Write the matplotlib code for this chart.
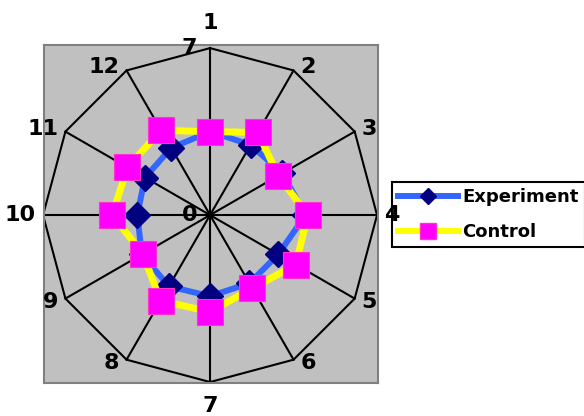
import numpy as np
import matplotlib
matplotlib.use("Agg")
import matplotlib.pyplot as plt
from matplotlib.lines import Line2D

categories = ["1", "2", "3", "4", "5", "6", "7", "8", "9", "10", "11", "12"]
experiment = [3.5, 3.4, 3.5, 4.0, 3.3, 3.3, 3.4, 3.45, 3.3, 3.05, 3.15, 3.25]
control = [3.5, 4.0, 3.3, 4.1, 4.15, 3.55, 4.05, 4.15, 3.25, 4.1, 4.0, 4.1]
r_max = 7
r_ticks = [0, 7]

plt.rcParams['font.family'] = ['DejaVu Sans']
plt.rcParams['font.weight'] = 'bold'

fig = plt.figure(figsize=(5.84, 4.16), dpi=100)
ax = fig.add_axes([44 / 584, 33 / 416, 334 / 584, 338 / 416])
ax.set_facecolor('#c0c0c0')
for s in ax.spines.values():
    s.set_color('#808080')
    s.set_linewidth(1.5)
ax.set_xticks([])
ax.set_yticks([])
ax.set_xlim(-6.96, 7.04)
ax.set_ylim(-7.04, 7.13)

n = len(categories)
theta = np.deg2rad(90 - 360 / n * np.arange(n))


def to_xy(vals):
    v = np.asarray(vals, dtype=float)
    x = v * np.cos(theta)
    y = v * np.sin(theta)
    return np.append(x, x[0]), np.append(y, y[0])


# spokes and outer ring
ox, oy = to_xy([r_max] * n)
for i in range(n):
    ax.plot([0, ox[i]], [0, oy[i]], color='black', lw=1.5, zorder=1)
ax.plot(ox, oy, color='black', lw=1.5, zorder=1)

# series
ex, ey = to_xy(experiment)
ax.plot(ex, ey, color='#3366ff', lw=4.3, zorder=2)
ax.plot(ex[:-1], ey[:-1], ls='none', marker='D', ms=13, color='#000080', zorder=3)
cx, cy = to_xy(control)
ax.plot(cx, cy, color='#ffff00', lw=5, zorder=4)
ax.plot(cx[:-1], cy[:-1], ls='none', marker='s', ms=18.5, markerfacecolor='#ff00ff',
        markeredgecolor='#ff33cc', markeredgewidth=0.8, zorder=5)

# category labels (drawn above the legend, like the original)
for i, lab in enumerate(categories):
    c, s = np.cos(theta[i]), np.sin(theta[i])
    if abs(c) < 1e-6:
        ha = 'center'
        va = 'bottom' if s > 0 else 'top'
        off = (0, 15 if s > 0 else -14)
    else:
        ha = 'left' if c > 0 else 'right'
        va = 'center'
        off = (7 if c > 0 else -7, 3 * np.sign(round(s, 6)))
    ax.annotate(lab, (r_max * c, r_max * s), xytext=off, textcoords='offset pixels',
                ha=ha, va=va, fontsize=16, fontweight='bold', annotation_clip=False,
                zorder=10)

# radial tick labels
for t in r_ticks:
    ax.annotate(str(t), (0, t), xytext=(-13, 0), textcoords='offset pixels',
                ha='right', va='center', fontsize=16, fontweight='bold', annotation_clip=False,
                zorder=10)

handles = [
    Line2D([], [], color='#3366ff', lw=4.3, marker='D', ms=8.5, markerfacecolor='#000080',
           markeredgecolor='#000080'),
    Line2D([], [], color='#ffff00', lw=4.3, marker='s', ms=11, markerfacecolor='#ff00ff',
           markeredgecolor='#ff33cc'),
]
leg = ax.legend(handles, ["Experiment", "Control"], loc='upper left',
                bbox_to_anchor=(392 / 584, 1 - 182 / 416), bbox_transform=fig.transFigure,
                fontsize=13, frameon=True, fancybox=False, framealpha=1, edgecolor='black',
                handlelength=3.3, handletextpad=0.25, borderpad=0.35,
                labelspacing=0.92, borderaxespad=0)
leg.get_frame().set_linewidth(1.5)
leg.set_zorder(8)

fig.savefig('out.png', dpi=100)
